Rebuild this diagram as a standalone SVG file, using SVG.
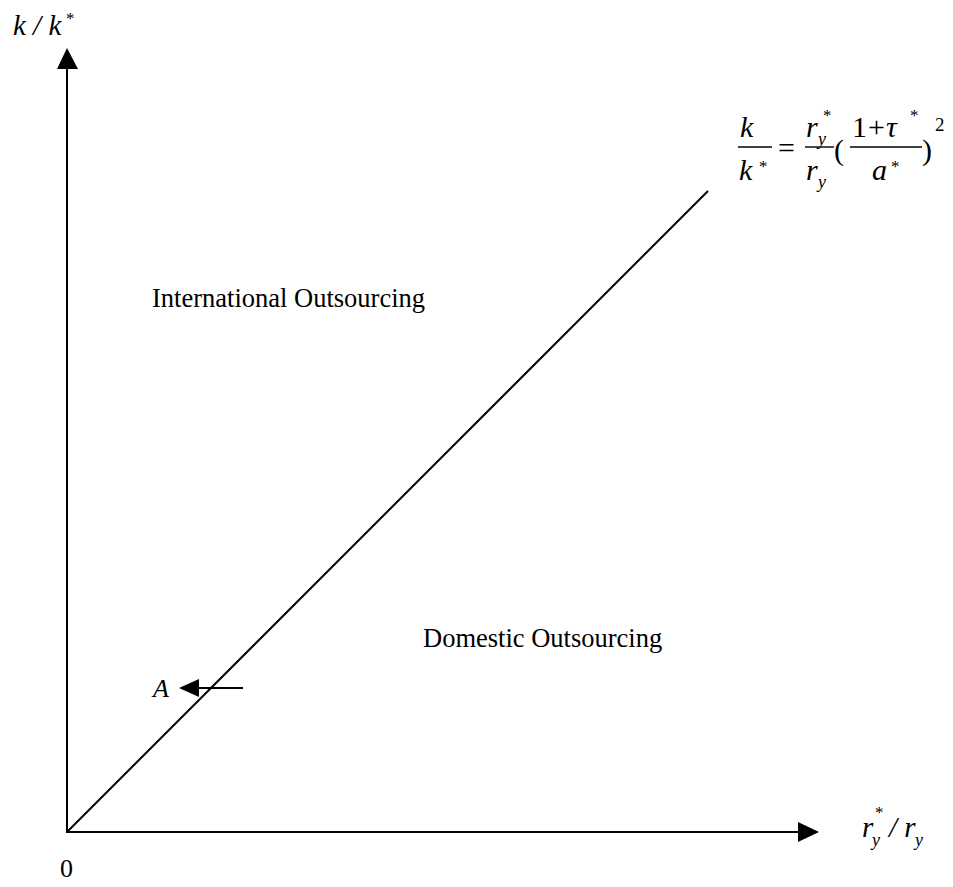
<svg xmlns="http://www.w3.org/2000/svg" width="953" height="887" viewBox="0 0 953 887">
<style>
.t{font-family:"Liberation Serif",serif;fill:#000}
.i{font-style:italic}
.ln{stroke:#000;stroke-width:2;fill:none}
.bar{stroke:#000;stroke-width:1.4}
</style>
<rect width="953" height="887" fill="#fff"/>
<g id="connectors">
<line class="ln" x1="67" y1="833" x2="67" y2="66"/>
<polygon points="67,48 57,69 78,69"/>
<line class="ln" x1="66" y1="832" x2="800" y2="832"/>
<polygon points="819,832 798,822 798,842"/>
<line class="ln" x1="67" y1="832" x2="708" y2="191" stroke-width="1.5"/>
<line class="ln" x1="243" y1="688" x2="196" y2="688"/>
<polygon points="179,688 199,679 199,697"/>
</g>
<g id="yaxis-label">
<text class="t i" x="13" y="35" font-size="29">k / k<tspan x="66" y="24" font-size="17" font-style="normal">*</tspan></text>
</g>
<g id="xaxis-label">
<text class="t i" x="862" y="837" font-size="29">r<tspan x="872" y="846" font-size="18">y</tspan><tspan x="875" y="818" font-size="17" font-style="normal">*</tspan><tspan x="889" y="837">/ r</tspan><tspan x="915" y="846" font-size="18">y</tspan></text>
</g>
<g id="origin"><text class="t" x="60" y="877" font-size="26">0</text></g>
<g id="intl"><text class="t" x="152" y="307" font-size="26.5">International Outsourcing</text></g>
<g id="dom"><text class="t" x="423" y="647" font-size="26.5">Domestic Outsourcing</text></g>
<g id="pointA"><text class="t i" x="153" y="697" font-size="26">A</text></g>
<g id="formula">
<text class="t i" x="740" y="137" font-size="30">k</text>
<line class="bar" x1="738" y1="147" x2="772" y2="147"/>
<text class="t i" x="739" y="180" font-size="30">k<tspan x="759" y="172" font-size="17" font-style="normal">*</tspan></text>
<text class="t" x="778" y="158" font-size="30">=</text>
<text class="t i" x="806" y="137" font-size="30">r<tspan x="818" y="145" font-size="18">y</tspan><tspan x="823" y="121" font-size="17" font-style="normal">*</tspan></text>
<line class="bar" x1="805" y1="147" x2="834" y2="147"/>
<text class="t i" x="806" y="180" font-size="30">r<tspan x="818" y="188" font-size="18">y</tspan></text>
<text class="t" x="834" y="160" font-size="30">(</text>
<text class="t" x="852" y="137" font-size="30">1<tspan x="868">+</tspan><tspan x="886" font-style="italic">τ</tspan><tspan x="910" y="121" font-size="17">*</tspan></text>
<line class="bar" x1="850" y1="147" x2="922" y2="147"/>
<text class="t i" x="872" y="180" font-size="30">a<tspan x="891" y="172" font-size="17" font-style="normal">*</tspan></text>
<text class="t" x="922" y="160" font-size="30">)<tspan x="935" y="131" font-size="19">2</tspan></text>
</g>
</svg>
